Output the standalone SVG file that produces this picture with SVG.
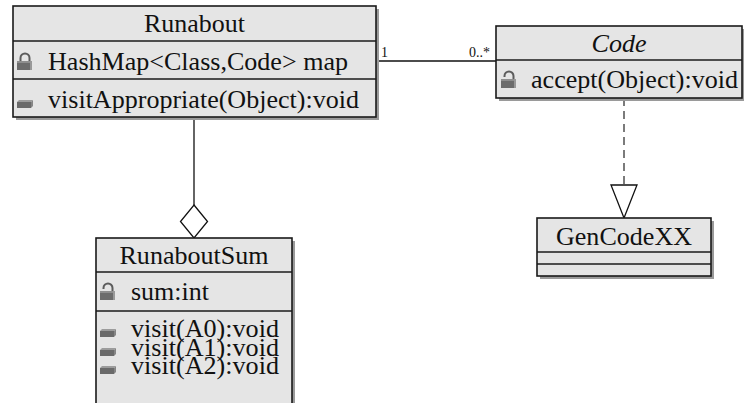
<svg xmlns="http://www.w3.org/2000/svg" width="744" height="403" viewBox="0 0 744 403">
<style>
.box{fill:#e5e5e5;stroke:#1a1a1a;stroke-width:1.6}
.sh{fill:#9a9a9a}
.div{stroke:#1a1a1a;stroke-width:1.6}
.t{font-family:'Liberation Serif','Times New Roman',Times,serif;font-size:24.5px;fill:#111}
.c{text-anchor:middle}
.i{font-style:italic}
.m{font-family:'Liberation Serif','Times New Roman',Times,serif;font-size:14px;fill:#111}
.ln{stroke:#111;stroke-width:1.3;fill:none}
</style>
<defs>
<g id="lockC">
<path d="M3.5 -9 V-12 A4.5 4.5 0 0 1 12.5 -12 V-9" fill="none" stroke="#5c5c5c" stroke-width="2"/>
<rect x="0" y="-9" width="15" height="9" fill="#6c6c6c"/>
<rect x="0" y="-9" width="15" height="2" fill="#8e8e8e"/>
<rect x="13" y="-9" width="2" height="9" fill="#999"/>
</g>
<g id="lockO">
<path d="M12.5 -9 V-12 A4.5 4.5 0 0 0 3.5 -12 V-11" fill="none" stroke="#5c5c5c" stroke-width="2"/>
<rect x="0" y="-9" width="15" height="9" fill="#6c6c6c"/>
<rect x="0" y="-9" width="15" height="2" fill="#8e8e8e"/>
<rect x="13" y="-9" width="2" height="9" fill="#999"/>
</g>
<g id="meth">
<rect x="0" y="-6" width="14" height="6" fill="#6a6a6a"/>
<polygon points="0,-6 2,-8 16,-8 14,-6" fill="#9c9c9c"/>
<polygon points="14,-6 16,-8 16,-2 14,0" fill="#858585"/>
</g>
</defs>

<g id="connectors">
<line class="ln" x1="376" y1="61" x2="496" y2="61"/>
<text class="m" x="381" y="57">1</text>
<text class="m" x="490" y="57" text-anchor="end">0..*</text>
<line class="ln" x1="194" y1="117" x2="194" y2="205"/>
<polygon class="ln" points="194,205 207.5,221.5 194,238 180.5,221.5" fill="#fff"/>
<line x1="624" y1="98" x2="624" y2="185" stroke="#444" stroke-width="1.4" stroke-dasharray="8,5"/>
<polygon class="ln" points="611,185 637,185 624,218" fill="#fff"/>
</g>

<g id="Runabout">
<rect class="sh" x="16" y="9" width="363" height="111"/>
<rect class="box" x="13" y="6" width="363" height="111"/>
<line class="div" x1="13" y1="41" x2="376" y2="41"/>
<line class="div" x1="13" y1="79" x2="376" y2="79"/>
<text class="t c" x="194.5" y="32" textLength="101" lengthAdjust="spacingAndGlyphs">Runabout</text>
<use href="#lockC" x="17" y="70"/>
<text class="t" x="48" y="70" textLength="300" lengthAdjust="spacingAndGlyphs">HashMap&lt;Class,Code&gt; map</text>
<use href="#meth" x="17" y="108"/>
<text class="t" x="48" y="108" textLength="311" lengthAdjust="spacingAndGlyphs">visitAppropriate(Object):void</text>
</g>

<g id="Code">
<rect class="sh" x="499" y="29" width="246" height="72"/>
<rect class="box" x="496" y="26" width="246" height="72"/>
<line class="div" x1="496" y1="60" x2="742" y2="60"/>
<text class="t c i" x="619" y="52" textLength="55" lengthAdjust="spacingAndGlyphs">Code</text>
<use href="#lockO" x="501" y="88"/>
<text class="t" x="531" y="88" textLength="207" lengthAdjust="spacingAndGlyphs">accept(Object):void</text>
</g>

<g id="RunaboutSum">
<rect class="sh" x="99" y="241" width="196" height="180"/>
<rect class="box" x="96" y="238" width="196" height="180"/>
<line class="div" x1="96" y1="272" x2="292" y2="272"/>
<line class="div" x1="96" y1="311" x2="292" y2="311"/>
<text class="t c" x="194" y="264" textLength="149" lengthAdjust="spacingAndGlyphs">RunaboutSum</text>
<use href="#lockO" x="100" y="300"/>
<text class="t" x="131" y="300" textLength="78" lengthAdjust="spacingAndGlyphs">sum:int</text>
<use href="#meth" x="100" y="337"/>
<text class="t" x="131" y="337" textLength="148" lengthAdjust="spacingAndGlyphs">visit(A0):void</text>
<use href="#meth" x="100" y="356"/>
<text class="t" x="131" y="356" textLength="148" lengthAdjust="spacingAndGlyphs">visit(A1):void</text>
<use href="#meth" x="100" y="374"/>
<text class="t" x="131" y="374" textLength="148" lengthAdjust="spacingAndGlyphs">visit(A2):void</text>
</g>

<g id="GenCodeXX">
<rect class="sh" x="540" y="221" width="174" height="58"/>
<rect class="box" x="537" y="218" width="174" height="58"/>
<line class="div" x1="537" y1="252" x2="711" y2="252"/>
<line class="div" x1="537" y1="264" x2="711" y2="264"/>
<text class="t c" x="624" y="245" textLength="136" lengthAdjust="spacingAndGlyphs">GenCodeXX</text>
</g>
</svg>
